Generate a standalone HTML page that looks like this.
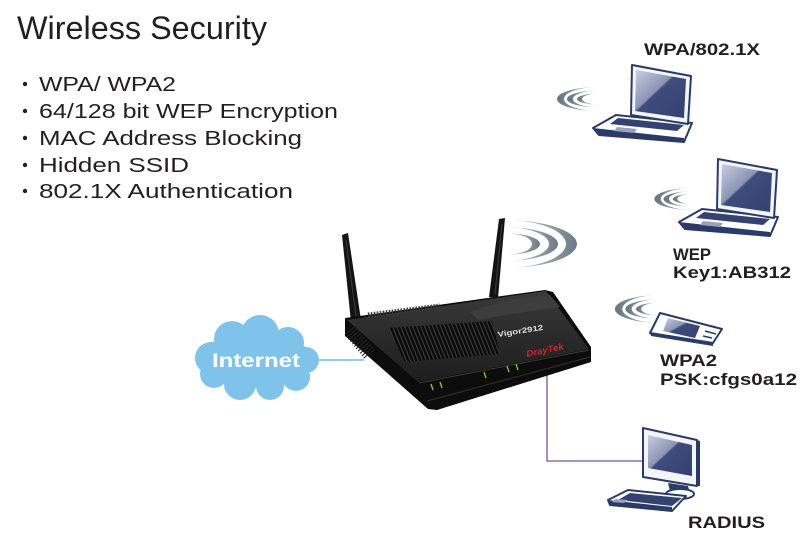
<!DOCTYPE html>
<html><head><meta charset="utf-8"><style>
html,body{margin:0;padding:0;background:#fff;}
svg{display:block;}
text{font-family:"Liberation Sans",Arial,sans-serif;}
</style></head><body>
<svg width="811" height="552" viewBox="0 0 811 552" xmlns="http://www.w3.org/2000/svg">
<defs>
  <linearGradient id="scr" x1="0" y1="0" x2="1" y2="1">
    <stop offset="0" stop-color="#c9cee0"/>
    <stop offset="0.42" stop-color="#8b94b4"/>
    <stop offset="0.45" stop-color="#3f4c7e"/>
    <stop offset="1" stop-color="#34416d"/>
  </linearGradient>
  <linearGradient id="arcL" x1="0" y1="0" x2="1" y2="0">
    <stop offset="0" stop-color="#66737f"/>
    <stop offset="0.6" stop-color="#98a2ab"/>
    <stop offset="1" stop-color="#dfe3e6"/>
  </linearGradient>
  <linearGradient id="arcR" x1="0" y1="0" x2="1" y2="0">
    <stop offset="0" stop-color="#e6e9ec"/>
    <stop offset="0.4" stop-color="#a8b2ba"/>
    <stop offset="1" stop-color="#6c7b88"/>
  </linearGradient>
  <linearGradient id="topg" x1="0" y1="0" x2="0" y2="1">
    <stop offset="0" stop-color="#3a3a3a"/>
    <stop offset="0.5" stop-color="#2a2a2a"/>
    <stop offset="1" stop-color="#1e1e1e"/>
  </linearGradient>
  <pattern id="vent" width="4" height="10" patternUnits="userSpaceOnUse" patternTransform="skewX(22)">
    <rect width="4" height="10" fill="#0a0a0a"/>
    <rect width="1.4" height="10" fill="#383838"/>
  </pattern>
  <g id="arcs">
    <path d="M0,-12 A42 12 0 0 0 0,12 A35 12 0 0 1 0,-12Z"/>
    <path d="M0,-8.5 A32 8.5 0 0 0 0,8.5 A26 8.5 0 0 1 0,-8.5Z"/>
    <path d="M0,-5.5 A22 5.5 0 0 0 0,5.5 A17 5.5 0 0 1 0,-5.5Z"/>
  </g>
  <g id="laptop">
    <polygon points="593,128 616,115 692,123 684,142 599,135" fill="#fff" stroke="#2b3a67" stroke-width="2" stroke-linejoin="round"/>
    <polygon points="593,128 684,138 684,142 599,135" fill="#2b3a67"/>
    <polygon points="618,118 684,125 677,131 610,124" fill="#34426f"/>
    <polygon points="617,127 637,129 634,133 614,131" fill="#9aa1bb"/>
    <polygon points="632,65 691,76 688,124 631,115" fill="#f4f5f9" stroke="#2b3a67" stroke-width="2" stroke-linejoin="round"/>
    <polygon points="636,70 686,79 684,118 635,111" fill="url(#scr)"/>
  </g>
</defs>

<text x="17" y="39" font-size="32" fill="#231f20" textLength="250" lengthAdjust="spacingAndGlyphs">Wireless Security</text>

<g fill="#231f20">
  <circle cx="25" cy="84" r="2.2"/>
  <circle cx="25" cy="111" r="2.2"/>
  <circle cx="25" cy="138" r="2.2"/>
  <circle cx="25" cy="165" r="2.2"/>
  <circle cx="25" cy="191" r="2.2"/>
  <text x="39" y="91" font-size="20" textLength="137" lengthAdjust="spacingAndGlyphs">WPA/ WPA2</text>
  <text x="39" y="118" font-size="20" textLength="299" lengthAdjust="spacingAndGlyphs">64/128 bit WEP Encryption</text>
  <text x="39" y="145" font-size="20" textLength="263" lengthAdjust="spacingAndGlyphs">MAC Address Blocking</text>
  <text x="39" y="172" font-size="20" textLength="150" lengthAdjust="spacingAndGlyphs">Hidden SSID</text>
  <text x="39" y="198" font-size="20" textLength="254" lengthAdjust="spacingAndGlyphs">802.1X Authentication</text>
</g>

<g fill="#231f20" font-weight="bold" font-size="17">
  <text x="644" y="55" textLength="116" lengthAdjust="spacingAndGlyphs">WPA/802.1X</text>
  <text x="673" y="260" textLength="38" lengthAdjust="spacingAndGlyphs">WEP</text>
  <text x="673" y="278" textLength="118" lengthAdjust="spacingAndGlyphs">Key1:AB312</text>
  <text x="660" y="366" textLength="57" lengthAdjust="spacingAndGlyphs">WPA2</text>
  <text x="660" y="385" textLength="137" lengthAdjust="spacingAndGlyphs">PSK:cfgs0a12</text>
  <text x="688" y="528" textLength="77" lengthAdjust="spacingAndGlyphs">RADIUS</text>
</g>

<polyline points="318,360 364,360" fill="none" stroke="#5aa7dd" stroke-width="1.3"/>
<polyline points="547,368 547,461 643,461" fill="none" stroke="#7d4f9e" stroke-width="1.3"/>

<g fill="#7fc3ea">
  <ellipse cx="256" cy="360" rx="56" ry="28"/>
  <circle cx="232" cy="339" r="18"/>
  <circle cx="260" cy="334" r="19"/>
  <circle cx="288" cy="343" r="16"/>
  <circle cx="211" cy="358" r="16"/>
  <circle cx="214" cy="374" r="14"/>
  <circle cx="240" cy="384" r="16"/>
  <circle cx="270" cy="386" r="14"/>
  <circle cx="296" cy="377" r="14"/>
  <circle cx="306" cy="360" r="13"/>
</g>
<text x="212" y="367" font-size="19" font-weight="bold" fill="#fff" textLength="88" lengthAdjust="spacingAndGlyphs">Internet</text>

<g fill="url(#arcR)">
  <path d="M504,220 A73 24 0 0 1 504,268 A62 24 0 0 0 504,220Z"/>
  <path d="M504,227 A54 17 0 0 1 504,261 A45 17 0 0 0 504,227Z"/>
  <path d="M504,233 A36 11 0 0 1 504,255 A28 11 0 0 0 504,233Z"/>
</g>

<polygon points="342,235 348,233 361,320 351,322" fill="#141414"/>
<line x1="346" y1="240" x2="356" y2="316" stroke="#3c3c3c" stroke-width="1"/>
<polygon points="499,219 505,218 498,298 489,297" fill="#141414"/>
<line x1="502" y1="224" x2="495" y2="294" stroke="#3c3c3c" stroke-width="1"/>

<polygon points="345,318 545,290 553,292 591,347 591,362 437,410 428,409 345,336" fill="#0c0c0c"/>
<polygon points="347,320 546,291 589,349 418,382" fill="url(#topg)"/>
<path d="M470,312 Q515,296 550,295 L560,307 Q520,312 478,320Z" fill="#3d3d3d"/>
<polygon points="388,328 492,321 500,354 405,362" fill="url(#vent)"/>
<line x1="368" y1="315" x2="440" y2="306" stroke="#3a3a3a" stroke-width="5" stroke-dasharray="1.5 1.5"/>
<line x1="350" y1="330" x2="370" y2="355" stroke="#222" stroke-width="14" stroke-dasharray="1 2"/>
<line x1="427" y1="401" x2="590" y2="357" stroke="#2c2c2c" stroke-width="1.2"/>
<line x1="419" y1="383" x2="589" y2="350" stroke="#3a3a3a" stroke-width="1"/>
<text x="498" y="337" font-size="7.5" font-weight="bold" fill="#e0e0e0" transform="rotate(-9 498 337)" textLength="46" lengthAdjust="spacingAndGlyphs">Vigor2912</text>
<text x="527" y="357" font-size="9" font-weight="bold" font-style="italic" fill="#c8262b" transform="rotate(-12 527 357)" textLength="38" lengthAdjust="spacingAndGlyphs">DrayTek</text>
<g stroke="#7fd32a" stroke-width="1.3">
  <line x1="431" y1="384" x2="433" y2="390"/>
  <line x1="440" y1="382" x2="442" y2="388"/>
  <line x1="484" y1="372" x2="486" y2="378"/>
  <line x1="507" y1="366" x2="509" y2="372"/>
  <line x1="516" y1="364" x2="518" y2="370"/>
</g>

<use href="#arcs" fill="url(#arcL)" transform="translate(599,99)"/>
<use href="#arcs" fill="url(#arcL)" transform="translate(693,199) scale(0.92)"/>
<use href="#arcs" fill="url(#arcL)" transform="translate(659,309) scale(1.05,1.15)"/>

<use href="#laptop"/>
<use href="#laptop" transform="translate(86,94)"/>

<polygon points="660,313 722,329 713,343 650,333" fill="#fff" stroke="#2b3a67" stroke-width="2" stroke-linejoin="round"/>
<polygon points="650,333 713,343 713,346 651,336" fill="#2b3a67"/>
<polygon points="668,318 700,326 695,338 663,331" fill="url(#scr)"/>
<g stroke="#2b3a67" stroke-width="1.5">
  <line x1="705" y1="331" x2="716" y2="334"/>
  <line x1="703" y1="336" x2="712" y2="338"/>
</g>

<polygon points="668,483 688,486 690,493 670,491" fill="#2b3a67"/>
<ellipse cx="680" cy="494" rx="14" ry="5" fill="#fff" stroke="#2b3a67" stroke-width="2"/>
<polygon points="643,428 697,440 697,486 643,477" fill="#f4f5f9" stroke="#2b3a67" stroke-width="2" stroke-linejoin="round"/>
<polygon points="697,440 700,441 700,486 697,486" fill="#2b3a67"/>
<polygon points="648,435 692,445 692,476 648,468" fill="url(#scr)"/>
<polygon points="608,500 628,490 686,496 672,511 610,505" fill="#fff" stroke="#2b3a67" stroke-width="2" stroke-linejoin="round"/>
<polygon points="608,500 672,507 672,511 610,505" fill="#2b3a67"/>
<polygon points="630,493 682,498 672,506 618,500" fill="#34426f"/>
<polygon points="615,499 628,500 624,503 612,502" fill="#9aa1bb"/>
</svg>
</body></html>
